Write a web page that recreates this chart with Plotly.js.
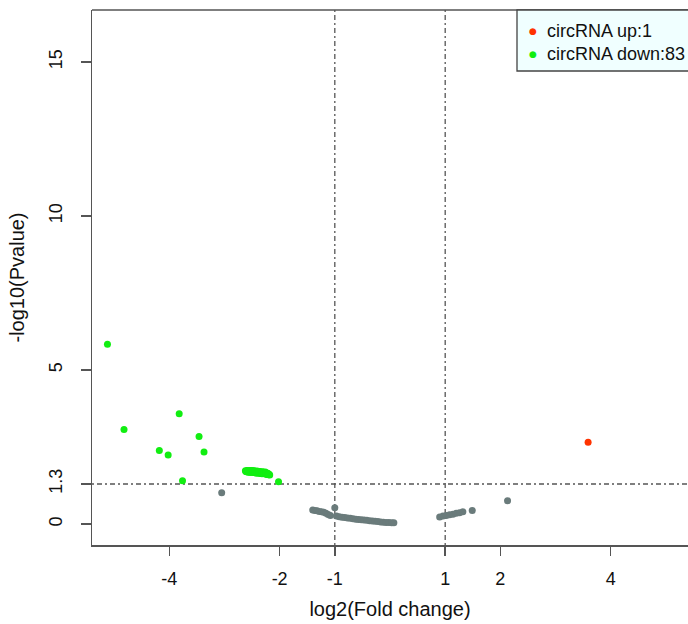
<!DOCTYPE html>
<html>
<head>
<meta charset="utf-8">
<script src="https://cdn.plot.ly/plotly-3.0.1.min.js"></script>
<style>html,body{margin:0;padding:0;background:#fff;overflow:hidden}</style>
</head>
<body>
<div id="chart" style="width:688px;height:624px"></div>
<script>
// ---- data ----
const upX = [3.59];
const upY = [2.66];

const downX = [-5.12, -4.82, -3.82, -4.18, -4.02, -3.46, -3.37, -3.76, -2.02,
  -2.62, -2.60, -2.59, -2.58, -2.57, -2.56, -2.55, -2.54, -2.53, -2.52, -2.51, -2.50, -2.49, -2.48, -2.47,
  -2.46, -2.45, -2.44, -2.43, -2.42, -2.41, -2.40, -2.39, -2.38, -2.37, -2.36, -2.35, -2.34, -2.33, -2.32,
  -2.31, -2.30, -2.29, -2.28, -2.27, -2.26, -2.25, -2.24, -2.23, -2.22, -2.21, -2.20, -2.19, -2.18,
  -2.61, -2.58, -2.56, -2.54, -2.52, -2.50, -2.48, -2.46, -2.44, -2.42, -2.40, -2.38, -2.36, -2.34, -2.32,
  -2.30, -2.28, -2.26, -2.24, -2.22, -2.57, -2.53, -2.49, -2.45, -2.41, -2.37, -2.33, -2.29, -2.25, -2.21];
const downY = [5.84, 3.07, 3.58, 2.39, 2.24, 2.84, 2.34, 1.41, 1.37,
  1.73, 1.70, 1.74, 1.72, 1.69, 1.73, 1.71, 1.68, 1.72, 1.70, 1.74, 1.69, 1.71, 1.67, 1.72,
  1.70, 1.68, 1.71, 1.66, 1.69, 1.72, 1.67, 1.70, 1.65, 1.68, 1.71, 1.66, 1.69, 1.64, 1.67,
  1.70, 1.65, 1.68, 1.63, 1.66, 1.69, 1.64, 1.62, 1.66, 1.61, 1.64, 1.60, 1.62, 1.59,
  1.71, 1.69, 1.70, 1.73, 1.68, 1.72, 1.70, 1.73, 1.68, 1.66, 1.70, 1.68, 1.65, 1.67, 1.63,
  1.68, 1.66, 1.63, 1.65, 1.63, 1.74, 1.69, 1.73, 1.70, 1.68, 1.70, 1.66, 1.64, 1.66, 1.61];

const nsX = [-3.05, -1.40, -1.36, -1.32, -1.28, -1.24, -1.20, -1.16, -1.12, -1.08, -1.00,
  -0.97, -0.92, -0.87, -0.82, -0.77, -0.72, -0.67, -0.62, -0.57, -0.52, -0.47, -0.42, -0.37,
  -0.32, -0.27, -0.22, -0.17, -0.12, -0.07, -0.02, 0.03, 0.07,
  0.90, 0.96, 1.02, 1.08, 1.14, 1.20, 1.26, 1.32, 1.49, 2.13];
const nsY = [1.02, 0.46, 0.44, 0.43, 0.41, 0.40, 0.38, 0.35, 0.31, 0.28, 0.53,
  0.26, 0.24, 0.22, 0.21, 0.20, 0.19, 0.17, 0.16, 0.15, 0.14, 0.13, 0.12, 0.11,
  0.10, 0.09, 0.08, 0.07, 0.06, 0.05, 0.05, 0.04, 0.04,
  0.23, 0.26, 0.28, 0.30, 0.32, 0.35, 0.37, 0.40, 0.44, 0.76];

const xTicks = [-4, -2, -1, 1, 2, 4];
const yTicks = [0, 1.3, 5, 10, 15];
const yTickText = ['0', '1.3', '5', '10', '15'];
const fcCut = [-1, 1];
const pCut = 1.3;
const legendLabels = ['circRNA up:' + upX.length, 'circRNA down:' + downX.length];

// ---- styles ----
const cUp = '#ff3300', cDown = '#11ee11', cNs = '#6a7b7b';
const axisCol = '#555555';
const FONT = 'Liberation Sans, Arial, sans-serif';

const mk = (c) => ({color: c, size: 7, line: {width: 0}});
const traces = [
  {x: nsX, y: nsY, type: 'scatter', mode: 'markers', marker: mk(cNs), hoverinfo: 'x+y'},
  {x: downX, y: downY, type: 'scatter', mode: 'markers', marker: mk(cDown)},
  {x: upX, y: upY, type: 'scatter', mode: 'markers', marker: mk(cUp)}
];

const dash = '2px,3px,5px,3px';
const shapes = [];
fcCut.forEach(v => shapes.push({type: 'line', xref: 'x', yref: 'paper', x0: v, x1: v, y0: 0, y1: 1,
  line: {color: '#555', width: 1.3, dash: dash}, layer: 'below'}));
shapes.push({type: 'line', xref: 'paper', yref: 'y', x0: 0, x1: 1, y0: pCut, y1: pCut,
  line: {color: '#555', width: 1.3, dash: dash}, layer: 'below'});
// top frame line
shapes.push({type: 'line', xref: 'paper', yref: 'paper', x0: 0, x1: 1, y0: 1, y1: 1,
  line: {color: axisCol, width: 1.5}});
// legend box
const lx0 = (517 - 92) / 596, ly0 = (545 - 71) / 535;
shapes.push({type: 'rect', xref: 'paper', yref: 'paper', x0: lx0, x1: 1.05, y0: ly0, y1: 1,
  fillcolor: '#f0ffff', line: {color: '#444', width: 1.3}});

const mX = (533 - 92) / 596, tX = (545 - 92) / 596;
const rowY = [(545 - 31) / 535, (545 - 54) / 535];
const legColors = [cUp, cDown];
const annotations = [];
legendLabels.forEach((t, i) => {
  annotations.push({xref: 'paper', yref: 'paper', x: mX, y: rowY[i], text: '●', showarrow: false,
    xanchor: 'center', yanchor: 'middle', font: {family: 'DejaVu Sans', size: 9, color: legColors[i]}});
  annotations.push({xref: 'paper', yref: 'paper', x: tX, y: rowY[i], text: t, showarrow: false,
    xanchor: 'left', yanchor: 'middle', font: {family: FONT, size: 18, color: '#111'}});
});

const layout = {
  width: 688, height: 624,
  margin: {l: 92, r: 0, t: 10, b: 79, pad: 0},
  paper_bgcolor: '#fff', plot_bgcolor: '#fff',
  showlegend: false,
  font: {family: FONT, size: 17, color: '#111'},
  xaxis: {
    range: [-5.4, 5.4], tickvals: xTicks, ticktext: xTicks.map(String),
    showgrid: false, zeroline: false, showline: true, linecolor: axisCol, linewidth: 1.5,
    ticks: 'outside', ticklen: 9, tickwidth: 1.5, tickcolor: axisCol, ticklabelstandoff: 8,
    tickfont: {family: FONT, size: 18, color: '#111'},
    title: {text: 'log2(Fold change)', font: {family: FONT, size: 20, color: '#111'}, standoff: 14}
  },
  yaxis: {
    range: [-0.68, 16.69], tickvals: yTicks, ticktext: yTickText, tickangle: -90,
    showgrid: false, zeroline: false, showline: true, linecolor: axisCol, linewidth: 1.5,
    ticks: 'outside', ticklen: 10, tickwidth: 1.5, tickcolor: axisCol, ticklabelstandoff: 11,
    tickfont: {family: FONT, size: 18, color: '#111'},
    title: {text: '-log10(Pvalue)', font: {family: FONT, size: 20, color: '#111'}, standoff: 16}
  },
  shapes: shapes,
  annotations: annotations
};

Plotly.newPlot('chart', traces, layout, {displayModeBar: false, staticPlot: true});
</script>
</body>
</html>
